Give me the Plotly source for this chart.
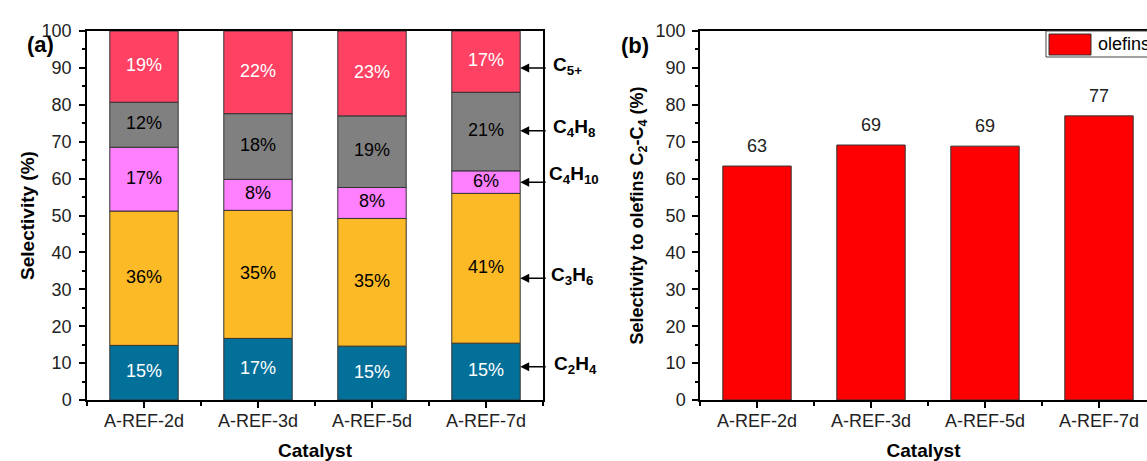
import plotly.graph_objects as go

catalysts = ["A-REF-2d", "A-REF-3d", "A-REF-5d", "A-REF-7d"]
c2h4 = [14.8, 16.7, 14.6, 15.4]
c3h6 = [36.4, 34.7, 34.6, 40.6]
c4h10 = [17.3, 8.4, 8.4, 6.1]
c4h8 = [12.2, 17.8, 19.4, 21.3]
c5p = [19.3, 22.4, 23.0, 16.6]
olefins = [63.4, 69.1, 68.8, 77.0]

series_names = ["C2H4", "C3H6", "C4H10", "C4H8", "C5+"]
series_vals = [c2h4, c3h6, c4h10, c4h8, c5p]
series_colors = ["#03709A", "#FCBA26", "#FF80FF", "#808080", "#FF4264"]
text_colors = ["white", "black", "black", "black", "white"]

label_html = ["C<sub>2</sub>H<sub>4</sub>", "C<sub>3</sub>H<sub>6</sub>",
              "C<sub>4</sub>H<sub>10</sub>", "C<sub>4</sub>H<sub>8</sub>", "C<sub>5+</sub>"]
label_y = [9, 33, 59, 73, 90]

FONT = "Arial, Liberation Sans, sans-serif"
W, H = 1147, 461
xpos = list(range(len(catalysts)))
label_px = [552, 549, 547, 551, 551]
label_dy = [2, 2, 7, 3, 2]

fig = go.Figure()
base = [0.0] * len(catalysts)
for name, vals, col, tc in zip(series_names, series_vals, series_colors, text_colors):
    fig.add_trace(go.Bar(
        x=xpos, y=vals, base=base, name=name,
        marker=dict(color=col, line=dict(color="#333333", width=1)),
        width=0.6, xaxis="x", yaxis="y", showlegend=False, hoverinfo="skip"))
    mids = [b + v / 2 for b, v in zip(base, vals)]
    fig.add_trace(go.Scatter(
        x=xpos, y=mids, mode="text", text=[f"{v:.0f}%" for v in vals],
        textposition="middle center", textfont=dict(family=FONT, size=18, color=tc),
        xaxis="x", yaxis="y", showlegend=False, hoverinfo="skip", cliponaxis=False))
    base = [b + v for b, v in zip(base, vals)]

fig.add_trace(go.Bar(
    x=xpos, y=olefins, name="olefins", marker=dict(color="#FF0000", line=dict(color="#333333", width=1)),
    width=0.6, xaxis="x2", yaxis="y2", showlegend=False, hoverinfo="skip"))

ydom = [(H - 400) / H, (H - 31) / H]
axis_common = dict(showline=True, linecolor="black", linewidth=1.5, ticks="outside",
                   ticklen=6, tickwidth=1.5, tickcolor="black", showgrid=False, zeroline=False,
                   automargin=False, tickfont=dict(family=FONT, size=18, color="#222"))
minor_x = dict(tick0=-0.5, dtick=1, ticklen=4, tickwidth=1.5, ticks="outside", tickcolor="black")
minor_y = dict(dtick=5, ticklen=3, tickwidth=1.5, ticks="outside", tickcolor="black")

fig.update_layout(
    template="none",
    width=W, height=H, margin=dict(l=0, r=0, t=0, b=0, autoexpand=False),
    paper_bgcolor="white", plot_bgcolor="white", barmode="overlay",
    font=dict(family=FONT, color="black"), showlegend=False,
    xaxis=dict(domain=[87 / W, 543 / W], range=[-0.5, 3.5], tickvals=xpos, ticktext=catalysts,
               mirror=True, anchor="y", minor=minor_x, ticklabelstandoff=-2,
               title=dict(text="<b>Catalyst</b>", font=dict(family=FONT, size=19), standoff=15),
               **axis_common),
    yaxis=dict(domain=ydom, range=[0, 100], dtick=10, mirror=True, anchor="x", minor=minor_y,
               ticklabelstandoff=4,
               title=dict(text="<b>Selectivity (%)</b>", font=dict(family=FONT, size=19), standoff=2),
               **axis_common),
    xaxis2=dict(domain=[700 / W, 1.0], range=[-0.5, (W - 700) / 114 - 0.5], tickvals=xpos, ticktext=catalysts,
                mirror=True, anchor="y2", minor=minor_x, ticklabelstandoff=-2,
                title=dict(text="<b>Catalyst</b>", font=dict(family=FONT, size=19), standoff=15),
                **axis_common),
    yaxis2=dict(domain=ydom, range=[0, 100], dtick=10, mirror=False, anchor="x2", minor=minor_y,
                ticklabelstandoff=3,
                title=dict(text="<b>Selectivity to olefins C<sub>2</sub>-C<sub>4</sub> (%)</b>",
                           font=dict(family=FONT, size=18), standoff=7),
                **axis_common),
)

# legend box for the "olefins" series (drawn to match the wide swatch of the original)
shapes = [
    dict(type="rect", xref="paper", yref="paper", x0=1046 / W, x1=1.2, y0=1 - 57 / H, y1=1 - 31 / H,
         line=dict(color="#444", width=1), fillcolor="white", layer="above"),
    dict(type="rect", xref="paper", yref="paper", x0=1049 / W, x1=1091 / W, y0=1 - 55 / H, y1=1 - 34 / H,
         line=dict(color="#333", width=1), fillcolor="#FF0000", layer="above"),
]
fig.update_layout(shapes=shapes)

annotations = []
for lab, ly, lpx, dy in zip(label_html, label_y, label_px, label_dy):
    annotations.append(dict(x=3.3, y=ly, xref="x", yref="y", text="", showarrow=True,
                            ax=27, ay=0, axref="pixel", ayref="pixel", arrowhead=2, arrowsize=1.2,
                            arrowwidth=1.5, arrowcolor="black", standoff=0))
    annotations.append(dict(x=lpx / W, y=ly, xref="paper", yref="y", text=f"<b>{lab}</b>",
                            showarrow=False, xanchor="left", yanchor="middle", yshift=dy,
                            font=dict(family=FONT, size=19, color="black")))
for i, v in enumerate(olefins):
    annotations.append(dict(x=i, y=v, xref="x2", yref="y2", text=f"{v:.0f}", showarrow=False,
                            yanchor="middle", yshift=20, font=dict(family=FONT, size=18, color="#222")))
annotations.append(dict(x=1096 / W, y=1 - 44 / H, xref="paper", yref="paper", text="olefins",
                        showarrow=False, xanchor="left", yanchor="middle",
                        font=dict(family=FONT, size=18, color="black")))
annotations.append(dict(x=25 / W, y=1 - 30 / H, xref="paper", yref="paper", text="<b>(a)</b>",
                        showarrow=False, font=dict(family=FONT, size=22, color="black")))
annotations.append(dict(x=635 / W, y=1 - 31 / H, xref="paper", yref="paper", text="<b>(b)</b>",
                        showarrow=False, font=dict(family=FONT, size=22, color="black")))
fig.update_layout(annotations=annotations)

fig.write_html("out.html", config={"displayModeBar": False},
               post_script="document.body.style.margin='0';document.body.style.overflow='hidden';")
